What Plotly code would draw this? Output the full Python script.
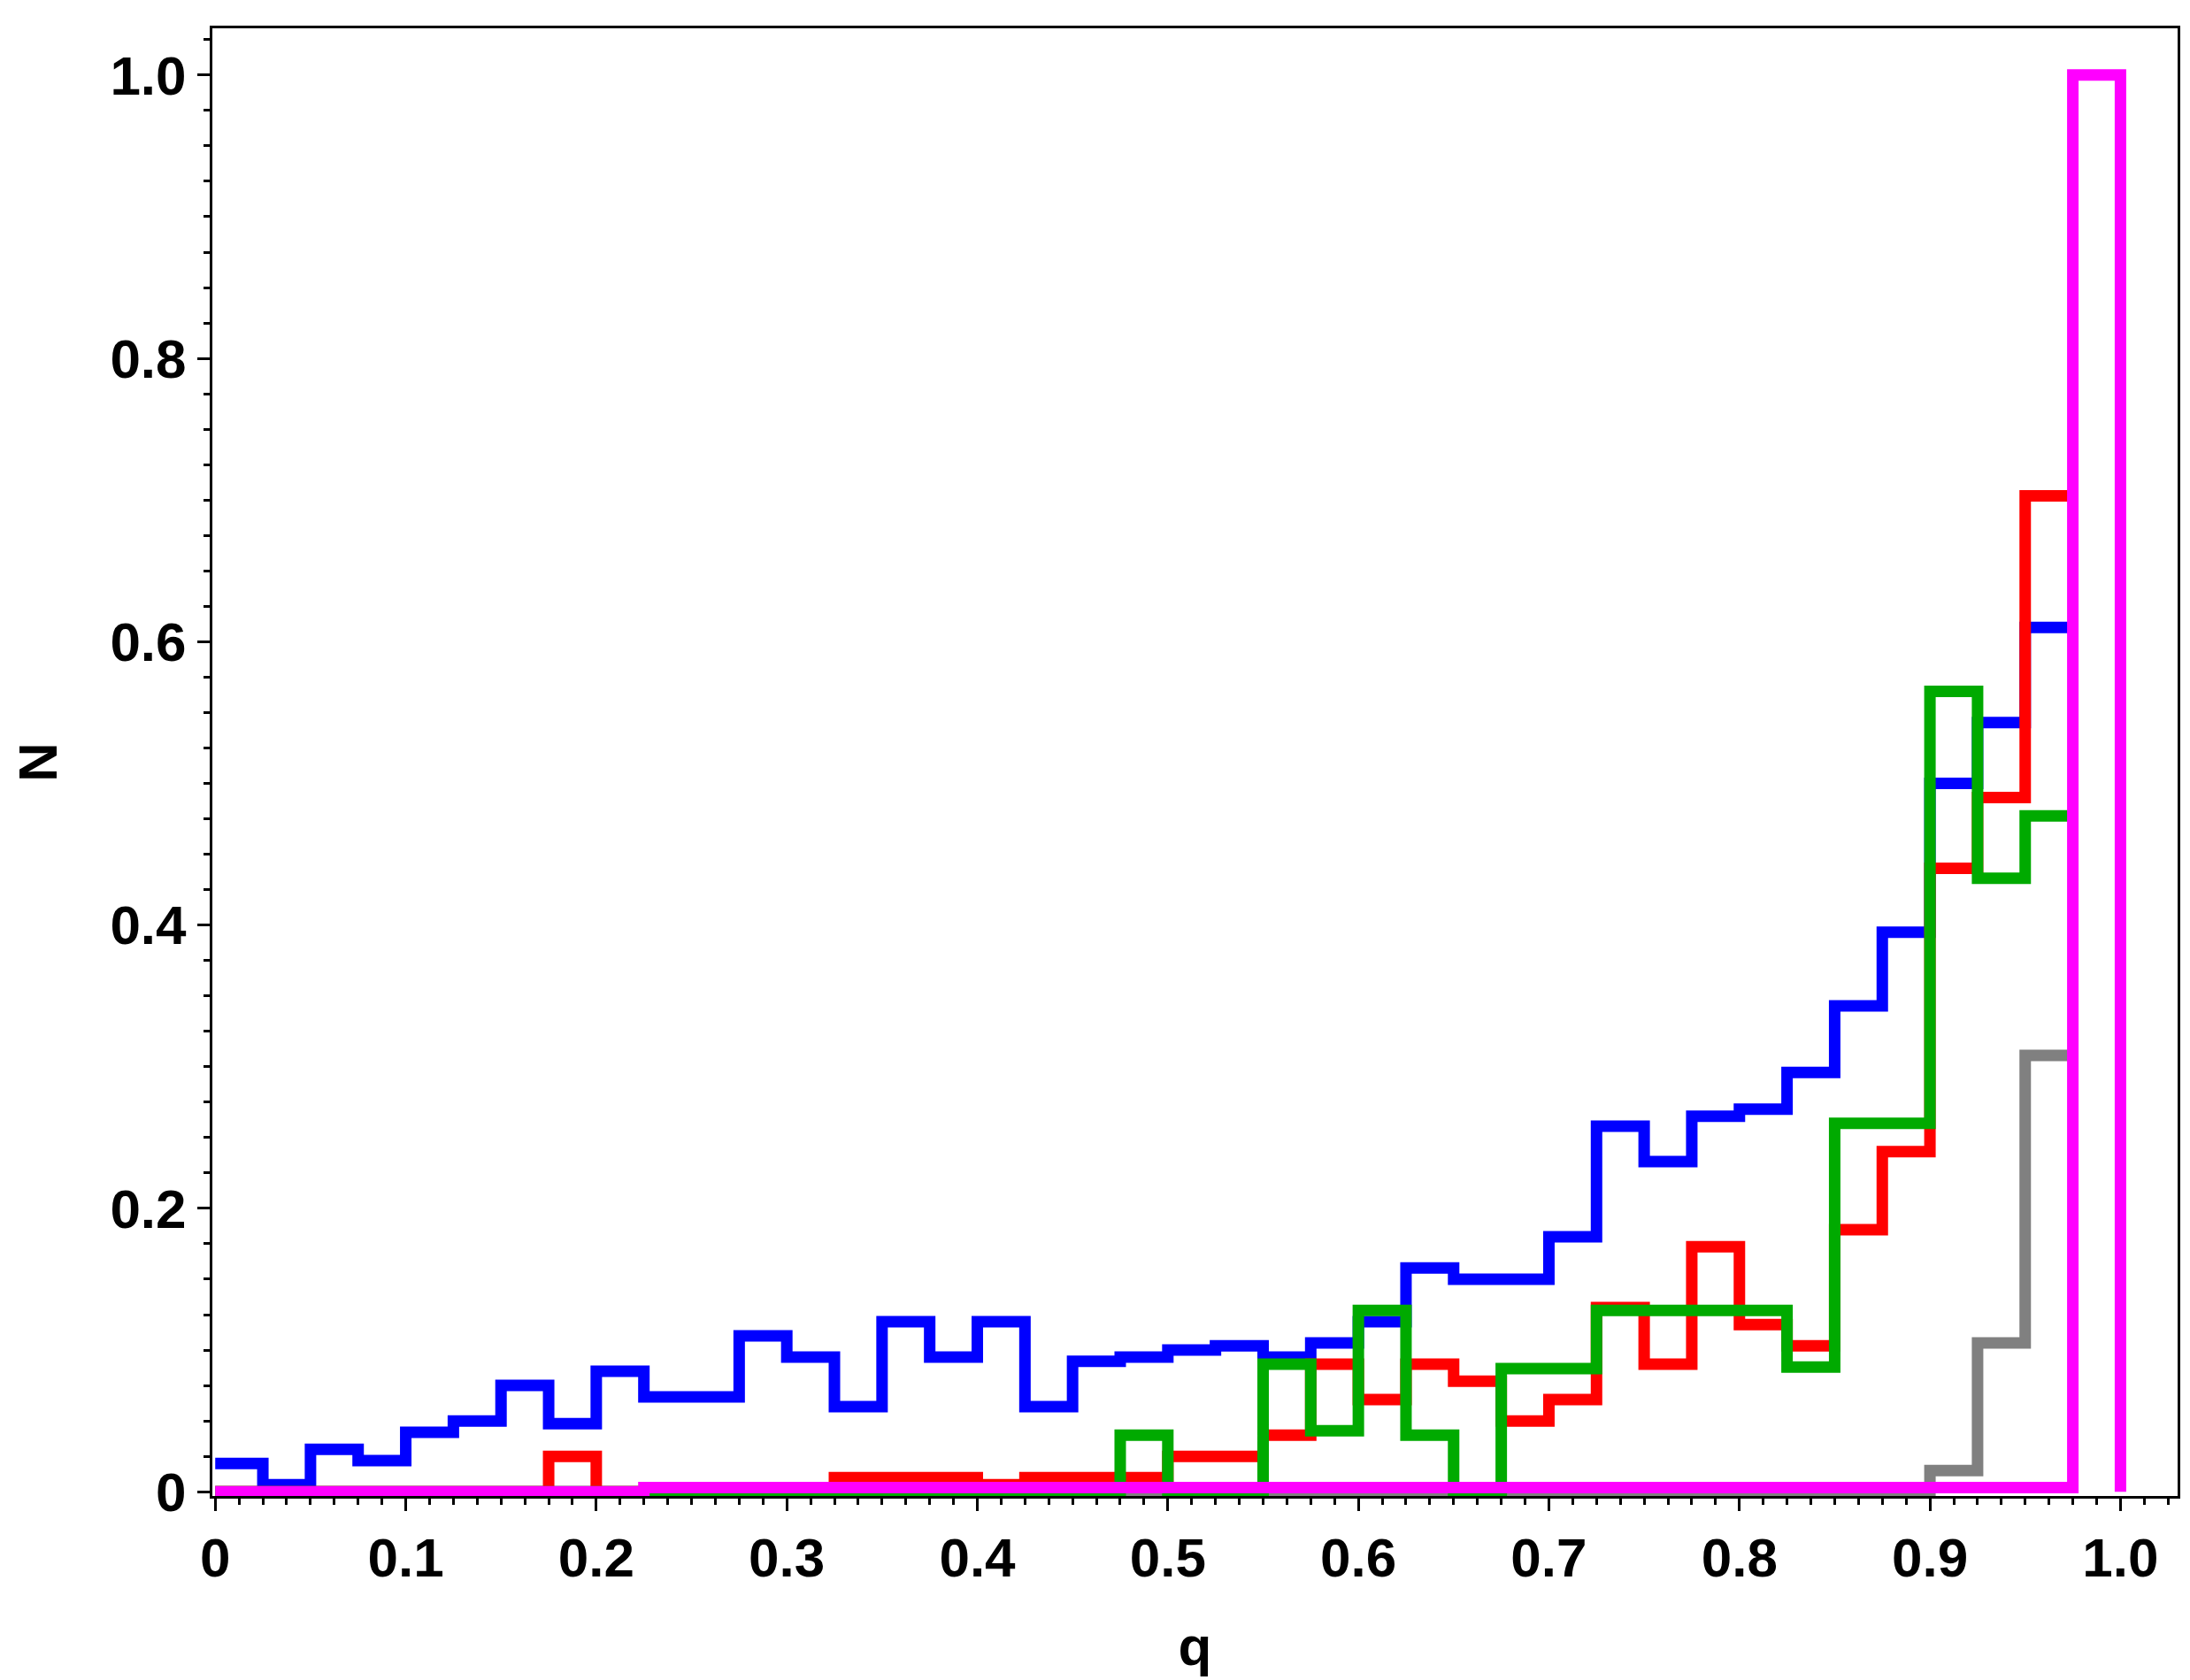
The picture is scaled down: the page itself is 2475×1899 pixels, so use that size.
import plotly.graph_objects as go

edges = [round(i * 0.025, 3) for i in range(41)]

blue = [0.02, 0.005, 0.03, 0.022, 0.042, 0.05, 0.075, 0.048, 0.085, 0.067,
        0.067, 0.11, 0.095, 0.06, 0.12, 0.095, 0.12, 0.06, 0.092, 0.095,
        0.1, 0.103, 0.095, 0.105, 0.12, 0.158, 0.15, 0.15, 0.18, 0.258,
        0.233, 0.265, 0.27, 0.296, 0.343, 0.395, 0.5, 0.543, 0.61]
red = [0, 0, 0, 0, 0, 0, 0, 0.025, 0, 0,
       0, 0, 0, 0.01, 0.01, 0.01, 0.005, 0.01, 0.01, 0.01,
       0.025, 0.025, 0.04, 0.09, 0.065, 0.09, 0.078, 0.05, 0.065, 0.13,
       0.09, 0.173, 0.118, 0.103, 0.185, 0.24, 0.44, 0.49, 0.703]
green = [0, 0, 0, 0, 0, 0, 0, 0, 0, 0,
         0, 0, 0, 0, 0, 0, 0, 0, 0, 0.04,
         0, 0, 0.09, 0.043, 0.128, 0.04, 0, 0.087, 0.087, 0.128,
         0.128, 0.128, 0.128, 0.088, 0.26, 0.26, 0.565, 0.433, 0.477]
gray = [0] * 36 + [0.015, 0.105, 0.308]
magenta = [0] * 9 + [0.003] * 30 + [1.0]

def steps(vals, close=False):
    xs = edges[:len(vals)] + [edges[len(vals)]]
    ys = list(vals) + [vals[-1]]
    if close:
        ys[-1] = 0
    return xs, ys

fig = go.Figure()
for vals, col, close in [(gray, "#808080", False), (blue, "#0000ff", False),
                         (red, "#ff0000", False), (green, "#00aa00", False),
                         (magenta, "#ff00ff", True)]:
    xs, ys = steps(vals, close)
    fig.add_trace(go.Scatter(x=xs, y=ys, mode="lines", line=dict(color=col, width=13, shape="hv"),
                             showlegend=False))

font = dict(family="Liberation Sans", size=62, color="black", weight="bold")
axis = dict(showline=True, linecolor="black", linewidth=3, mirror=True, ticks="outside",
            ticklen=14, tickwidth=3, tickcolor="black", showgrid=False, zeroline=False,
            tickfont=font, title_font=font, title_standoff=45,
            minor=dict(ticks="outside", ticklen=7, tickwidth=3, tickcolor="black"))
fig.update_xaxes(range=[-0.0015, 1.03], title_text="q", minor_dtick=0.0125,
                 tickvals=[0, 0.1, 0.2, 0.3, 0.4, 0.5, 0.6, 0.7, 0.8, 0.9, 1.0],
                 ticktext=["0", "0.1", "0.2", "0.3", "0.4", "0.5", "0.6", "0.7", "0.8", "0.9", "1.0"],
                 **axis)
fig.update_yaxes(range=[-0.003, 1.033], title_text="N", minor_dtick=0.025,
                 tickvals=[0, 0.2, 0.4, 0.6, 0.8, 1.0],
                 ticktext=["0", "0.2", "0.4", "0.6", "0.8", "1.0"], **axis)
fig.update_layout(width=2475, height=1899, plot_bgcolor="white", paper_bgcolor="white",
                  margin=dict(l=232, r=22, t=24, b=216))
fig.write_html("out.html")
